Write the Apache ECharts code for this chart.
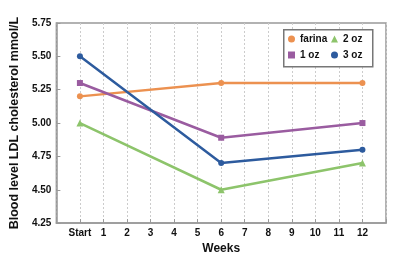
<!DOCTYPE html>
<html>
<head>
<meta charset="utf-8">
<style>
  html, body { margin: 0; padding: 0; background: #fff; }
  #chart { width: 400px; height: 260px; }
</style>
<script src="https://cdn.jsdelivr.net/npm/echarts@6/dist/echarts.min.js"></script>
</head>
<body>
<div id="chart"></div>
<script>
// x positions of the measurements (0 = Start)
const weeks = [0, 6, 12];
const weekLabels = ["Start", "1", "2", "3", "4", "5", "6", "7", "8", "9", "10", "11", "12"];

const farina = [5.20, 5.30, 5.30];
const oz1 = [5.30, 4.89, 5.00];
const oz2 = [5.00, 4.50, 4.70];
const oz3 = [5.50, 4.70, 4.80];

const FONT = "Liberation Sans";

function pairs(vals) {
  return weeks.map((w, i) => [w, vals[i]]);
}

function line(name, vals, color, symbol, size) {
  return {
    name: name,
    type: "line",
    data: pairs(vals),
    symbol: symbol,
    symbolSize: size,
    color: color,
    lineStyle: { width: 2.5, color: color },
    itemStyle: { color: color },
    z: 3
  };
}

// two legend columns inside one framed box
function legendCol(left, items) {
  return {
    data: items,
    orient: "vertical",
    left: left,
    top: 33,
    padding: 0,
    itemWidth: 7,
    itemHeight: 7,
    itemGap: 4,
    z: 12,
    textStyle: {
      fontFamily: FONT,
      fontWeight: "bold",
      fontSize: 10,
      color: "#111",
      lineHeight: 12
    }
  };
}

let chart = echarts.init(document.getElementById("chart"));
let option = {
  backgroundColor: "#fff",
  animation: false,
  grid: {
    left: 52,
    right: 14,
    top: 23,
    bottom: 34,
    show: true,
    borderColor: "#999",
    borderWidth: 1.5
  },
  graphic: [{
    type: "rect",
    left: 283,
    top: 29,
    z: 10,
    shape: { width: 89, height: 37 },
    style: { fill: "#fff", stroke: "#777", lineWidth: 1.5 }
  }],
  legend: [
    legendCol(288, [{ name: "farina", icon: "circle" }, { name: "1 oz", icon: "rect" }]),
    legendCol(331, [{ name: "2 oz", icon: "triangle" }, { name: "3 oz", icon: "circle" }])
  ],
  xAxis: {
    type: "value",
    min: -1,
    max: 13,
    interval: 1,
    name: "Weeks",
    nameLocation: "middle",
    nameGap: 15,
    nameTextStyle: { fontFamily: FONT, fontWeight: "bold", fontSize: 12, color: "#111" },
    axisLine: { show: true, onZero: false, lineStyle: { color: "#999", width: 1.5 } },
    axisTick: { show: true, inside: true, length: 4, lineStyle: { color: "#999" } },
    axisLabel: {
      fontFamily: FONT,
      fontWeight: "bold",
      fontSize: 10,
      color: "#111",
      margin: 5,
      formatter: function (v) {
        return v >= 0 && v < weekLabels.length ? weekLabels[v] : "";
      }
    },
    splitLine: { show: true, lineStyle: { color: "#ccc", type: [2, 2], width: 1 } }
  },
  yAxis: {
    type: "value",
    min: 4.25,
    max: 5.75,
    interval: 0.25,
    name: "Blood level LDL cholesterol mmol/L",
    nameLocation: "middle",
    nameRotate: 90,
    nameGap: 33,
    nameTextStyle: { fontFamily: FONT, fontWeight: "bold", fontSize: 12.5, color: "#111" },
    axisLine: { show: true, onZero: false, lineStyle: { color: "#999", width: 1.5 } },
    axisTick: { show: true, inside: true, length: 4, lineStyle: { color: "#999" } },
    axisLabel: {
      fontFamily: FONT,
      fontWeight: "bold",
      fontSize: 10,
      color: "#111",
      margin: 5,
      formatter: function (v) { return v.toFixed(2); }
    },
    splitLine: { show: false }
  },
  series: [
    line("farina", farina, "#EC9150", "circle", 6),
    line("1 oz", oz1, "#9A5CA0", "rect", 6),
    line("2 oz", oz2, "#8DC46B", "triangle", 7),
    line("3 oz", oz3, "#2D5B9E", "circle", 6)
  ]
};
chart.setOption(option, true);
</script>
</body>
</html>
